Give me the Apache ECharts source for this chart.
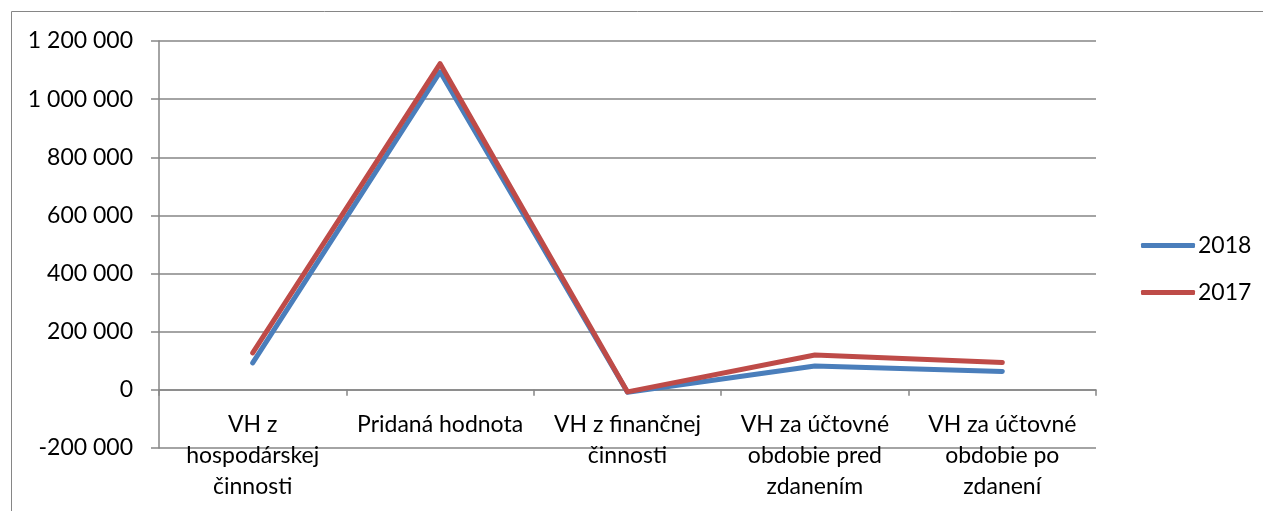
<!DOCTYPE html>
<html><head><meta charset="utf-8">
<script src="https://cdn.jsdelivr.net/npm/echarts@6/dist/echarts.min.js"></script>
<style>html,body{margin:0;padding:0;background:#fff}#c{width:1263px;height:511px}</style>
</head><body><div id="c"></div>
<script>
var categories = ["VH z\nhospodárskej\nčinnosti", "Pridaná hodnota", "VH z finančnej\nčinnosti", "VH za účtovné\nobdobie pred\nzdanením", "VH za účtovné\nobdobie po\nzdanení"];
var seriesNames = ["2018", "2017"];
var values2018 = [93000, 1094000, -8000, 82000, 63000];
var values2017 = [127000, 1122000, -7000, 120000, 94000];
var yMin = -200000, yMax = 1200000, yStep = 200000;

var FONT = "Lato";
var FS = 23;
var gridTop = 41, gridBottom = 63, H = 511;
var plotH = H - gridTop - gridBottom;
var zeroOffset = -plotH * (0 - yMin) / (yMax - yMin);
var chart = echarts.init(document.getElementById('c'));
function fmt(v){ var s = Math.abs(v).toString().replace(/\B(?=(\d{3})+(?!\d))/g, ' '); return (v<0?'-':'') + s; }
chart.setOption({
  animation: false,
  backgroundColor: '#fff',
  graphic: [{type:'rect', shape:{x:11.5,y:11.5,width:1300,height:600}, style:{fill:'none', stroke:'#868686', lineWidth:1}, silent:true}],
  grid: {left:159, right:167, top:gridTop, bottom:gridBottom, containLabel:false, outerBoundsMode:'none'},
  legend: {
    orient:'vertical', left:1136, top:229, itemWidth:54, itemHeight:5, itemGap:24,
    icon:'roundRect',
    textStyle:{fontFamily:FONT, fontSize:FS, color:'#000', padding:[0,0,0,-2]},
    data: seriesNames
  },
  xAxis: {
    type:'category', data: categories, boundaryGap:true,
    offset: zeroOffset,
    axisLine:{onZero:false, lineStyle:{color:'#868686', width:1.5}},
    axisTick:{show:true, length:6, lineStyle:{color:'#868686', width:1.5}},
    axisLabel:{fontFamily:FONT, fontSize:FS, color:'#000', lineHeight:31, margin:19, interval:0}
  },
  yAxis: {
    type:'value', min:yMin, max:yMax, interval:yStep,
    axisLine:{show:true, lineStyle:{color:'#868686', width:1.5}},
    axisTick:{show:true, length:8, lineStyle:{color:'#868686', width:1.5}},
    splitLine:{lineStyle:{color:'#868686', width:1.5}},
    axisLabel:{fontFamily:FONT, fontSize:FS, color:'#000', margin:26, formatter: fmt}
  },
  series: [
    {name:seriesNames[0], type:'line', data:values2018, symbol:'none', color:'#4A7EBB', lineStyle:{width:5, color:'#4A7EBB', cap:'round', join:'round'}},
    {name:seriesNames[1], type:'line', data:values2017, symbol:'none', color:'#BE4B48', lineStyle:{width:5, color:'#BE4B48', cap:'round', join:'round'}}
  ]
});
</script></body></html>
